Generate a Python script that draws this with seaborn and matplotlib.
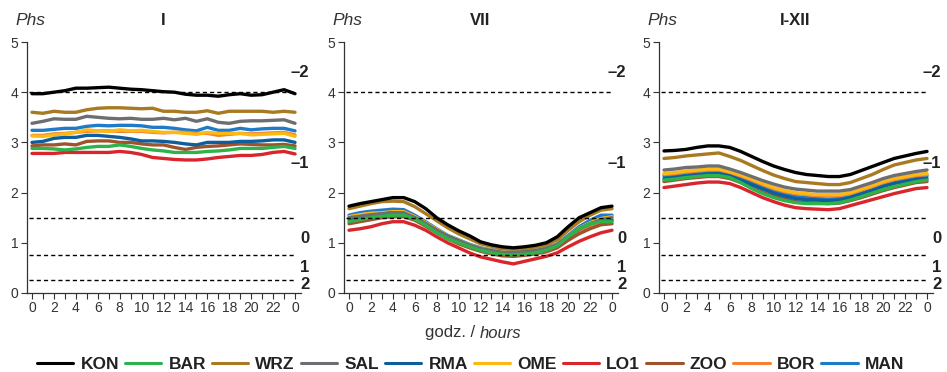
import numpy as np
import pandas as pd
import matplotlib
matplotlib.use("Agg")
import matplotlib.pyplot as plt
from matplotlib.lines import Line2D
import seaborn as sns

hours = list(range(25))
hour_ticks = list(range(0, 25, 2))
hour_labels = ["0", "2", "4", "6", "8", "10", "12", "14", "16", "18", "20", "22", "0"]
stations = ["KON", "BAR", "WRZ", "SAL", "RMA", "OME", "LO1", "ZOO", "BOR", "MAN"]
panel_titles = ["I", "VII", "I-XII"]
class_levels = [4.0, 1.5, 0.75, 0.25]
class_labels = ["–2", "–1", "0", "1", "2"]
class_label_y = [4.4, 2.58, 1.09, 0.5, 0.17]

# ---- January (I)
KON_I = [3.97, 3.97, 4.0, 4.03, 4.08, 4.08, 4.09, 4.1, 4.08, 4.06, 4.05, 4.03, 4.01, 4.0, 3.96, 3.94, 3.94, 3.92, 3.95, 3.97, 3.94, 3.95, 4.0, 4.05, 3.97]
BAR_I = [2.88, 2.88, 2.87, 2.85, 2.87, 2.9, 2.92, 2.92, 2.95, 2.92, 2.88, 2.85, 2.83, 2.8, 2.8, 2.8, 2.82, 2.83, 2.85, 2.88, 2.88, 2.88, 2.9, 2.92, 2.88]
WRZ_I = [3.6, 3.58, 3.62, 3.6, 3.6, 3.65, 3.68, 3.69, 3.69, 3.68, 3.67, 3.68, 3.62, 3.62, 3.6, 3.6, 3.63, 3.58, 3.62, 3.62, 3.62, 3.62, 3.6, 3.62, 3.6]
SAL_I = [3.38, 3.42, 3.47, 3.46, 3.46, 3.52, 3.5, 3.48, 3.47, 3.48, 3.46, 3.46, 3.48, 3.45, 3.48, 3.42, 3.47, 3.4, 3.38, 3.42, 3.43, 3.43, 3.44, 3.45, 3.38]
RMA_I = [3.0, 3.02, 3.08, 3.1, 3.1, 3.14, 3.14, 3.12, 3.1, 3.07, 3.03, 3.03, 3.02, 3.0, 2.97, 2.95, 3.0, 3.0, 3.0, 3.02, 3.02, 3.03, 3.05, 3.05, 3.0]
OME_I = [3.13, 3.12, 3.15, 3.17, 3.2, 3.25, 3.23, 3.22, 3.25, 3.23, 3.24, 3.22, 3.2, 3.2, 3.18, 3.16, 3.2, 3.18, 3.18, 3.18, 3.15, 3.16, 3.17, 3.18, 3.12]
LO1_I = [2.78, 2.78, 2.78, 2.8, 2.8, 2.8, 2.8, 2.8, 2.82, 2.8, 2.76, 2.7, 2.68, 2.66, 2.65, 2.65, 2.67, 2.7, 2.72, 2.74, 2.74, 2.76, 2.8, 2.82, 2.77]
ZOO_I = [2.93, 2.95, 2.95, 2.97, 2.95, 3.02, 3.03, 3.03, 3.0, 3.0, 2.97, 2.95, 2.95, 2.9, 2.86, 2.9, 2.92, 2.93, 2.95, 2.97, 2.96, 2.95, 2.95, 2.96, 2.93]
BOR_I = [3.14, 3.14, 3.17, 3.18, 3.2, 3.22, 3.23, 3.23, 3.22, 3.22, 3.22, 3.2, 3.19, 3.2, 3.2, 3.18, 3.18, 3.14, 3.16, 3.18, 3.17, 3.18, 3.19, 3.2, 3.15]
MAN_I = [3.24, 3.24, 3.26, 3.28, 3.28, 3.32, 3.34, 3.33, 3.34, 3.34, 3.33, 3.3, 3.3, 3.28, 3.25, 3.23, 3.3, 3.24, 3.24, 3.28, 3.25, 3.27, 3.28, 3.28, 3.23]

# ---- July (VII)
KON_VII = [1.73, 1.78, 1.82, 1.86, 1.9, 1.9, 1.82, 1.68, 1.5, 1.36, 1.24, 1.14, 1.02, 0.96, 0.92, 0.9, 0.92, 0.95, 1.0, 1.12, 1.32, 1.5, 1.6, 1.7, 1.73]
BAR_VII = [1.42, 1.46, 1.5, 1.53, 1.55, 1.55, 1.47, 1.35, 1.2, 1.08, 1.0, 0.92, 0.85, 0.8, 0.77, 0.76, 0.77, 0.8, 0.85, 0.94, 1.12, 1.28, 1.38, 1.42, 1.42]
WRZ_VII = [1.68, 1.73, 1.78, 1.82, 1.83, 1.82, 1.72, 1.58, 1.44, 1.3, 1.18, 1.08, 0.98, 0.93, 0.89, 0.88, 0.88, 0.92, 0.96, 1.06, 1.25, 1.42, 1.55, 1.65, 1.68]
SAL_VII = [1.5, 1.53, 1.56, 1.58, 1.6, 1.6, 1.5, 1.38, 1.25, 1.12, 1.03, 0.95, 0.88, 0.84, 0.81, 0.8, 0.81, 0.84, 0.88, 0.96, 1.12, 1.27, 1.38, 1.46, 1.5]
RMA_VII = [1.48, 1.5, 1.55, 1.57, 1.6, 1.58, 1.5, 1.38, 1.25, 1.13, 1.04, 0.95, 0.88, 0.84, 0.8, 0.8, 0.82, 0.84, 0.88, 0.96, 1.12, 1.28, 1.38, 1.44, 1.45]
OME_VII = [1.52, 1.56, 1.59, 1.6, 1.62, 1.62, 1.52, 1.4, 1.27, 1.14, 1.05, 0.96, 0.89, 0.85, 0.82, 0.81, 0.82, 0.85, 0.89, 0.97, 1.13, 1.29, 1.4, 1.48, 1.52]
LO1_VII = [1.25, 1.28, 1.32, 1.38, 1.42, 1.42, 1.35, 1.25, 1.12, 1.0, 0.9, 0.8, 0.72, 0.67, 0.62, 0.58, 0.63, 0.68, 0.73, 0.8, 0.92, 1.03, 1.12, 1.2, 1.25]
ZOO_VII = [1.38, 1.42, 1.46, 1.5, 1.52, 1.52, 1.45, 1.33, 1.2, 1.08, 0.98, 0.9, 0.83, 0.78, 0.74, 0.73, 0.75, 0.78, 0.82, 0.9, 1.05, 1.18, 1.28, 1.36, 1.38]
BOR_VII = [1.45, 1.48, 1.52, 1.55, 1.57, 1.57, 1.48, 1.36, 1.23, 1.1, 1.0, 0.92, 0.85, 0.81, 0.78, 0.77, 0.78, 0.81, 0.85, 0.93, 1.08, 1.23, 1.33, 1.41, 1.45]
MAN_VII = [1.55, 1.6, 1.63, 1.65, 1.67, 1.66, 1.55, 1.42, 1.28, 1.15, 1.06, 0.97, 0.9, 0.86, 0.84, 0.82, 0.83, 0.86, 0.9, 0.98, 1.15, 1.32, 1.45, 1.55, 1.55]

# ---- Year (I-XII)
KON_Y = [2.83, 2.84, 2.86, 2.9, 2.93, 2.93, 2.9, 2.82, 2.72, 2.62, 2.53, 2.46, 2.4, 2.36, 2.34, 2.32, 2.32, 2.36, 2.44, 2.52, 2.6, 2.68, 2.73, 2.78, 2.82]
BAR_Y = [2.25, 2.27, 2.3, 2.32, 2.34, 2.34, 2.3, 2.2, 2.08, 1.98, 1.9, 1.84, 1.8, 1.78, 1.78, 1.78, 1.8, 1.85, 1.92, 1.99, 2.06, 2.12, 2.17, 2.22, 2.25]
WRZ_Y = [2.68, 2.7, 2.73, 2.75, 2.77, 2.79, 2.72, 2.64, 2.54, 2.44, 2.35, 2.28, 2.22, 2.2, 2.18, 2.16, 2.16, 2.2, 2.28, 2.36, 2.46, 2.55, 2.6, 2.65, 2.68]
SAL_Y = [2.45, 2.47, 2.5, 2.51, 2.53, 2.53, 2.47, 2.4, 2.32, 2.24, 2.17, 2.11, 2.07, 2.05, 2.03, 2.03, 2.03, 2.06, 2.13, 2.2, 2.28, 2.34, 2.38, 2.42, 2.45]
RMA_Y = [2.28, 2.3, 2.33, 2.35, 2.37, 2.38, 2.33, 2.25, 2.16, 2.07, 1.99, 1.93, 1.88, 1.86, 1.85, 1.84, 1.85, 1.9, 1.97, 2.04, 2.12, 2.18, 2.22, 2.26, 2.28]
OME_Y = [2.38, 2.4, 2.43, 2.45, 2.47, 2.47, 2.42, 2.35, 2.27, 2.18, 2.1, 2.04, 2.0, 1.98, 1.96, 1.96, 1.96, 2.0, 2.07, 2.14, 2.22, 2.28, 2.32, 2.36, 2.38]
LO1_Y = [2.1, 2.13, 2.16, 2.19, 2.21, 2.21, 2.18, 2.1, 2.0, 1.9, 1.82, 1.75, 1.7, 1.68, 1.67, 1.66, 1.68, 1.74, 1.8, 1.86, 1.92, 1.98, 2.03, 2.08, 2.1]
ZOO_Y = [2.22, 2.25, 2.28, 2.3, 2.32, 2.32, 2.28, 2.2, 2.1, 2.0, 1.93, 1.87, 1.82, 1.8, 1.79, 1.78, 1.79, 1.84, 1.9, 1.97, 2.04, 2.1, 2.15, 2.2, 2.22]
BOR_Y = [2.36, 2.38, 2.41, 2.43, 2.45, 2.45, 2.4, 2.33, 2.25, 2.16, 2.08, 2.02, 1.98, 1.96, 1.94, 1.94, 1.94, 1.98, 2.05, 2.12, 2.2, 2.26, 2.3, 2.34, 2.36]
MAN_Y = [2.33, 2.35, 2.38, 2.4, 2.42, 2.42, 2.37, 2.3, 2.2, 2.12, 2.04, 1.97, 1.92, 1.9, 1.88, 1.87, 1.88, 1.92, 1.99, 2.06, 2.14, 2.2, 2.25, 2.3, 2.33]

panels = [
    [KON_I, BAR_I, WRZ_I, SAL_I, RMA_I, OME_I, LO1_I, ZOO_I, BOR_I, MAN_I],
    [KON_VII, BAR_VII, WRZ_VII, SAL_VII, RMA_VII, OME_VII, LO1_VII, ZOO_VII, BOR_VII, MAN_VII],
    [KON_Y, BAR_Y, WRZ_Y, SAL_Y, RMA_Y, OME_Y, LO1_Y, ZOO_Y, BOR_Y, MAN_Y],
]

colors = {
    "KON": "#000000", "BAR": "#2db34a", "WRZ": "#a87a22", "SAL": "#6d6e71",
    "RMA": "#0d5e9b", "OME": "#fdb913", "LO1": "#d9262c", "ZOO": "#a0522d",
    "BOR": "#f58232", "MAN": "#1f7bc8",
}

sns.set_theme(style="white")
plt.rcParams["font.family"] = ["Liberation Sans", "DejaVu Sans"]

W, H = 947, 372
fig = plt.figure(figsize=(W / 100, H / 100), dpi=100)

lefts = [26.5, 343.5, 658.5]
ax_w = 274
ax_bottom = 293
ax_top = 42

draw_order = stations[::-1]

for i, (left, vals, title) in enumerate(zip(lefts, panels, panel_titles)):
    ax = fig.add_axes([left / W, 1 - ax_bottom / H, ax_w / W, (ax_bottom - ax_top) / H])
    df = pd.DataFrame({"hour": hours * len(stations),
                       "value": np.concatenate(vals),
                       "station": np.repeat(stations, len(hours))})
    df["order"] = df["station"].map({s: k for k, s in enumerate(draw_order)})
    df = df.sort_values(["order", "hour"])
    sns.lineplot(data=df, x="hour", y="value", hue="station", hue_order=draw_order,
                 palette=colors, linewidth=2.4, legend=False, ax=ax, sort=False,
                 estimator=None)
    for lvl in class_levels:
        ax.plot([-0.3, 24], [lvl, lvl], color="black", linestyle=(0, (3, 2.2)),
                linewidth=1.0, zorder=5)
    ax.set_xlim(-0.5, 24.5)
    ax.set_ylim(0, 5)
    ax.set_xticks(hour_ticks)
    ax.set_xticklabels(hour_labels)
    ax.set_xticks(hours, minor=True)
    ax.set_yticks([0, 1, 2, 3, 4, 5])
    ax.tick_params(axis="both", which="both", direction="out", length=4, width=0.8,
                   colors="#333333", labelsize=10, pad=2, bottom=True, left=True)
    ax.tick_params(axis="x", which="minor", length=4)
    ax.set_xlabel("")
    ax.set_ylabel("")
    for sp in ["top", "right"]:
        ax.spines[sp].set_visible(False)
    for sp in ["left", "bottom"]:
        ax.spines[sp].set_color("#333333")
        ax.spines[sp].set_linewidth(0.9)
    ax.text(-0.04, 1.085, "Phs", transform=ax.transAxes, fontsize=12.5,
            style="italic", color="#333333", ha="left", va="center")
    ax.text(0.5, 1.085, title, transform=ax.transAxes, fontsize=12,
            fontweight="bold", color="#222222", ha="center", va="center")
    for lab, yy in zip(class_labels, class_label_y):
        ax.text(25.3, yy, lab, fontsize=12, fontweight="bold", color="#222222",
                ha="right", va="center", clip_on=False)

fig.text(480 / W, 1 - 333 / H, "godz. / ", fontsize=12, color="#333333",
         ha="right", va="center")
fig.text(480 / W, 1 - 333 / H, "hours", fontsize=12, style="italic",
         color="#333333", ha="left", va="center")

handles = [Line2D([0], [0], color=colors[s], linewidth=2.2) for s in stations]
leg = fig.legend(handles, stations, loc="center left", bbox_to_anchor=(37 / W, 1 - 364 / H),
                 ncol=10, frameon=False, handlelength=2.1, handletextpad=0.4,
                 columnspacing=0.35, borderpad=0, borderaxespad=0,
                 prop={"weight": "bold", "size": 12.5})
for t in leg.get_texts():
    t.set_color("#222222")

fig.savefig("out.png", dpi=100)
